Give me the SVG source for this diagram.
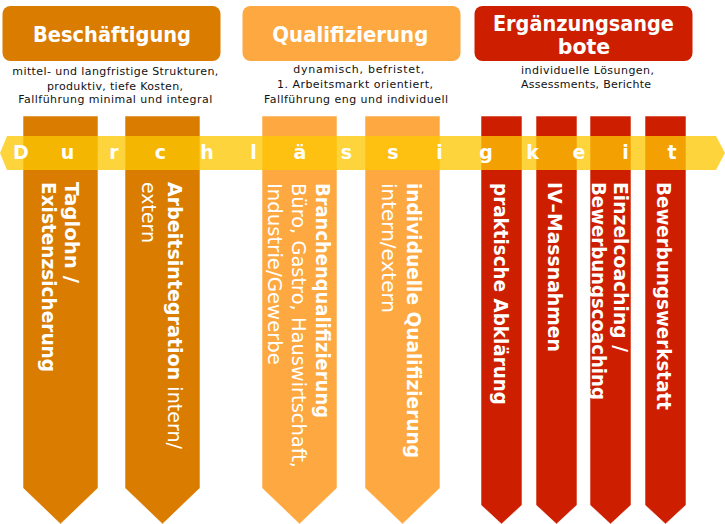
<svg xmlns="http://www.w3.org/2000/svg" width="725" height="524" viewBox="0 0 725 524">
<style>
.hdr{font-family:"DejaVu Sans","Liberation Sans",sans-serif;font-weight:bold;font-size:20.5px;fill:#fff;text-anchor:middle}
.sub{font-family:"DejaVu Sans","Liberation Sans",sans-serif;font-size:11px;fill:#111;text-anchor:middle}
.col{font-family:"DejaVu Sans","Liberation Sans",sans-serif;font-size:19.5px;fill:#fff}
.b{font-weight:bold}
.band{font-family:"DejaVu Sans","Liberation Sans",sans-serif;font-weight:bold;font-size:19px;fill:#fff;text-anchor:middle}
.o1{fill:#D97C00}
.o2{fill:#FDA840}
.o3{fill:#CD1E00}
.cs{stroke:#fff;stroke-opacity:0.55;stroke-width:1}
</style>
<rect width="725" height="524" fill="#fff"/>

<g id="hdr-beschaeftigung">
<rect class="o1" x="2.5" y="6" width="218" height="55" rx="8"/>
<text class="hdr" x="112" y="42" textLength="158" lengthAdjust="spacingAndGlyphs">Beschäftigung</text>
<text class="sub" x="115.3" y="75" textLength="206">mittel- und langfristige Strukturen,</text>
<text class="sub" x="115" y="89.5" textLength="136">produktiv, tiefe Kosten,</text>
<text class="sub" x="115.3" y="103" textLength="194">Fallführung minimal und integral</text>
</g>

<g id="hdr-qualifizierung">
<rect class="o2" x="242.5" y="6" width="218" height="55" rx="8"/>
<text class="hdr" x="350.3" y="42" textLength="156" lengthAdjust="spacingAndGlyphs">Qualifizierung</text>
<text class="sub" x="358.8" y="73" textLength="131">dynamisch, befristet,</text>
<text class="sub" x="355" y="88" textLength="156">1. Arbeitsmarkt orientiert,</text>
<text class="sub" x="356" y="103" textLength="184">Fallführung eng und individuell</text>
</g>

<g id="hdr-ergaenzungsangebote">
<rect class="o3" x="474.5" y="6" width="218" height="55" rx="8"/>
<text class="hdr" x="583.4" y="31" textLength="181" lengthAdjust="spacingAndGlyphs">Ergänzungsange</text>
<text class="hdr" x="584" y="54">bote</text>
<text class="sub" x="587.5" y="74" textLength="133">individuelle Lösungen,</text>
<text class="sub" x="586" y="88" textLength="130">Assessments, Berichte</text>
</g>

<g id="col-taglohn">
<path class="o1 cs" d="M23,116H98V488L60.5,524L23,488Z"/>
<text class="col b" transform="translate(65,182) rotate(90)" textLength="101" lengthAdjust="spacingAndGlyphs">Taglohn /</text>
<text class="col b" transform="translate(42,182) rotate(90)" textLength="190" lengthAdjust="spacingAndGlyphs">Existenzsicherung</text>
</g>

<g id="col-arbeitsintegration">
<path class="o1 cs" d="M125,116H200V488L162.5,524L125,488Z"/>
<text class="col" transform="translate(168,182) rotate(90)" textLength="267" lengthAdjust="spacingAndGlyphs"><tspan class="b">Arbeitsintegration</tspan> intern/</text>
<text class="col" transform="translate(142,182) rotate(90)" textLength="61" lengthAdjust="spacingAndGlyphs">extern</text>
</g>

<g id="col-branchenqualifizierung">
<path class="o2 cs" d="M262,116H337V488L299.5,524L262,488Z"/>
<text class="col b" transform="translate(315.5,183) rotate(90)" textLength="235" lengthAdjust="spacingAndGlyphs">Branchenqualifizierung</text>
<text class="col" transform="translate(291.5,183) rotate(90)" textLength="285" lengthAdjust="spacingAndGlyphs">Büro, Gastro, Hauswirtschaft,</text>
<text class="col" transform="translate(268,183) rotate(90)" textLength="182" lengthAdjust="spacingAndGlyphs">Industrie/Gewerbe</text>
</g>

<g id="col-individuelle-qualifizierung">
<path class="o2 cs" d="M365,116H440V488L402.5,524L365,488Z"/>
<text class="col b" transform="translate(407,183) rotate(90)" textLength="275" lengthAdjust="spacingAndGlyphs">individuelle Qualifizierung</text>
<text class="col" transform="translate(382,183) rotate(90)" textLength="130" lengthAdjust="spacingAndGlyphs">intern/extern</text>
</g>

<g id="col-praktische-abklaerung">
<path class="o3 cs" d="M481,116H522V505L501.5,524L481,505Z"/>
<text class="col b" transform="translate(494,183) rotate(90)" textLength="222" lengthAdjust="spacingAndGlyphs">praktische Abklärung</text>
</g>

<g id="col-iv-massnahmen">
<path class="o3 cs" d="M536,116H577V505L556.5,524L536,505Z"/>
<text class="col b" transform="translate(548,182) rotate(90)" textLength="170" lengthAdjust="spacingAndGlyphs">IV–Massnahmen</text>
</g>

<g id="col-coaching">
<path class="o3 cs" d="M590,116H631V505L610.5,524L590,505Z"/>
<text class="col b" transform="translate(614,182) rotate(90)" textLength="170" lengthAdjust="spacingAndGlyphs">Einzelcoaching /</text>
<text class="col b" transform="translate(591.5,182) rotate(90)" textLength="218" lengthAdjust="spacingAndGlyphs">Bewerbungscoaching</text>
</g>

<g id="col-bewerbungswerkstatt">
<path class="o3 cs" d="M645,116H686V505L665.5,524L645,505Z"/>
<text class="col b" transform="translate(657,182) rotate(90)" textLength="228" lengthAdjust="spacingAndGlyphs">Bewerbungswerkstatt</text>
</g>

<g id="band-durchlaessigkeit">
<path d="M7,136H716L725,153L716,170H7L0,153Z" fill="#FEC703" fill-opacity="0.77"/>
<text class="band" x="21" y="159">D</text>
<text class="band" x="67.5" y="159">u</text>
<text class="band" x="114" y="159">r</text>
<text class="band" x="160.5" y="159">c</text>
<text class="band" x="207" y="159">h</text>
<text class="band" x="253.5" y="159">l</text>
<text class="band" x="300" y="159">ä</text>
<text class="band" x="346.5" y="159">s</text>
<text class="band" x="393" y="159">s</text>
<text class="band" x="439.5" y="159">i</text>
<text class="band" x="486" y="159">g</text>
<text class="band" x="532.5" y="159">k</text>
<text class="band" x="579" y="159">e</text>
<text class="band" x="625.5" y="159">i</text>
<text class="band" x="672" y="159">t</text>
</g>
<g id="connectors"/>
</svg>
